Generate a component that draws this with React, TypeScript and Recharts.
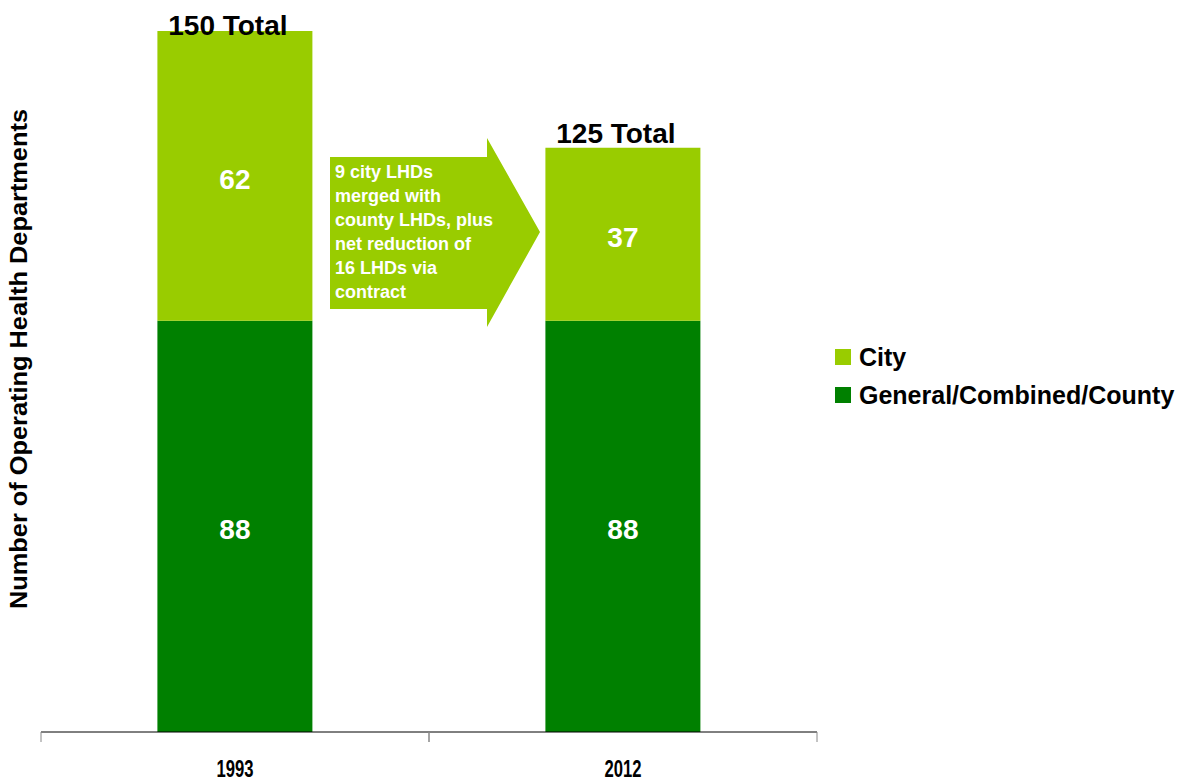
import { BarChart, Bar, XAxis, YAxis, LabelList, Legend } from "recharts";

const years = ["1993", "2012"];
const countyCounts = [88, 88];
const cityCounts = [62, 37];
const totals = [150, 125];

const arrowNote = [
  "9 city LHDs",
  "merged with",
  "county LHDs, plus",
  "net reduction of",
  "16 LHDs via",
  "contract",
];

const CITY = "#99cc00";
const COUNTY = "#008000";
const FONT = "'Liberation Sans', Arial, sans-serif";

const chartData = years.map((year, i) => ({
  year,
  county: countyCounts[i],
  city: cityCounts[i],
  total: totals[i],
}));

// year label at the band centre plus tick marks on both band edges
// eslint-disable-next-line @typescript-eslint/no-explicit-any
function YearTick(props: any) {
  const { x, y, payload } = props;
  const half = Number(payload.offset) || 0;
  return (
    <g>
      <line x1={x - half} y1={y} x2={x - half} y2={y + 10} stroke="#888" />
      <line x1={x + half} y1={y} x2={x + half} y2={y + 10} stroke="#888" />
      <text
        x={x}
        y={y + 45}
        textAnchor="middle"
        fontFamily={FONT}
        fontWeight="bold"
        fontSize={24}
        fill="#000"
        textLength={37}
        lengthAdjust="spacingAndGlyphs"
      >
        {payload.value}
      </text>
    </g>
  );
}

// eslint-disable-next-line @typescript-eslint/no-explicit-any
function TotalLabel(props: any) {
  const { x, y, width, value } = props;
  const baseline = Math.max(Number(y) - 5, 35);
  return (
    <text
      x={Number(x) + Number(width) / 2 - 7}
      y={baseline}
      textAnchor="middle"
      fontFamily={FONT}
      fontWeight="bold"
      fontSize={28}
      fill="#000"
    >
      {`${value} Total`}
    </text>
  );
}

function LegendBox() {
  const items = [
    { label: "City", color: CITY },
    { label: "General/Combined/County", color: COUNTY },
  ];
  return (
    <div style={{ fontFamily: FONT }}>
      {items.map((it) => (
        <div
          key={it.label}
          style={{
            display: "flex",
            alignItems: "center",
            height: 38,
            fontWeight: "bold",
            fontSize: 25,
            color: "#000",
            whiteSpace: "nowrap",
          }}
        >
          <span
            style={{
              width: 16,
              height: 16,
              background: it.color,
              marginRight: 8,
              display: "inline-block",
            }}
          />
          {it.label}
        </div>
      ))}
    </div>
  );
}

export default function App() {
  return (
    <div
      style={{
        position: "absolute",
        left: 0,
        top: 0,
        width: 1186,
        height: 783,
        background: "#fff",
      }}
    >
      <BarChart
        width={1186}
        height={783}
        data={chartData}
        margin={{ top: 31, right: 369, bottom: 0, left: 41 }}
        barCategoryGap="30%"
      >
        <XAxis
          dataKey="year"
          height={51}
          interval={0}
          tick={<YearTick />}
          tickSize={0}
          tickMargin={0}
          tickLine={false}
          axisLine={{ stroke: "#000" }}
        />
        <YAxis hide domain={[0, 150]} />
        <Legend
          layout="vertical"
          align="center"
          verticalAlign="middle"
          wrapperStyle={{ left: 835, top: 338, width: 350 }}
          content={<LegendBox />}
        />
        <Bar
          dataKey="county"
          stackId="a"
          fill={COUNTY}
          isAnimationActive={false}
        >
          <LabelList
            dataKey="county"
            position="center"
            fill="#fff"
            fontFamily={FONT}
            fontWeight="bold"
            fontSize={28}
            dy={3}
          />
        </Bar>
        <Bar dataKey="city" stackId="a" fill={CITY} isAnimationActive={false}>
          <LabelList
            dataKey="city"
            position="center"
            fill="#fff"
            fontFamily={FONT}
            fontWeight="bold"
            fontSize={28}
            dy={3}
          />
          <LabelList dataKey="total" content={<TotalLabel />} />
        </Bar>
      </BarChart>

      {/* y axis title */}
      <svg
        width={40}
        height={783}
        style={{ position: "absolute", left: 0, top: 0 }}
      >
        <text
          transform="translate(27, 359) rotate(-90)"
          textAnchor="middle"
          fontFamily={FONT}
          fontWeight="bold"
          fontSize={23}
          fill="#000"
          textLength={500}
          lengthAdjust="spacingAndGlyphs"
        >
          Number of Operating Health Departments
        </text>
      </svg>

      {/* change annotation arrow */}
      <svg
        width={220}
        height={200}
        style={{ position: "absolute", left: 325, top: 133 }}
      >
        <polygon
          points="5,24 162,24 162,5 215,99 162,194 162,176 5,176"
          fill={CITY}
        />
        {arrowNote.map((line, i) => (
          <text
            key={line}
            x={10}
            y={45 + i * 24}
            fontFamily={FONT}
            fontWeight="bold"
            fontSize={18}
            fill="#fff"
          >
            {line}
          </text>
        ))}
      </svg>
    </div>
  );
}
